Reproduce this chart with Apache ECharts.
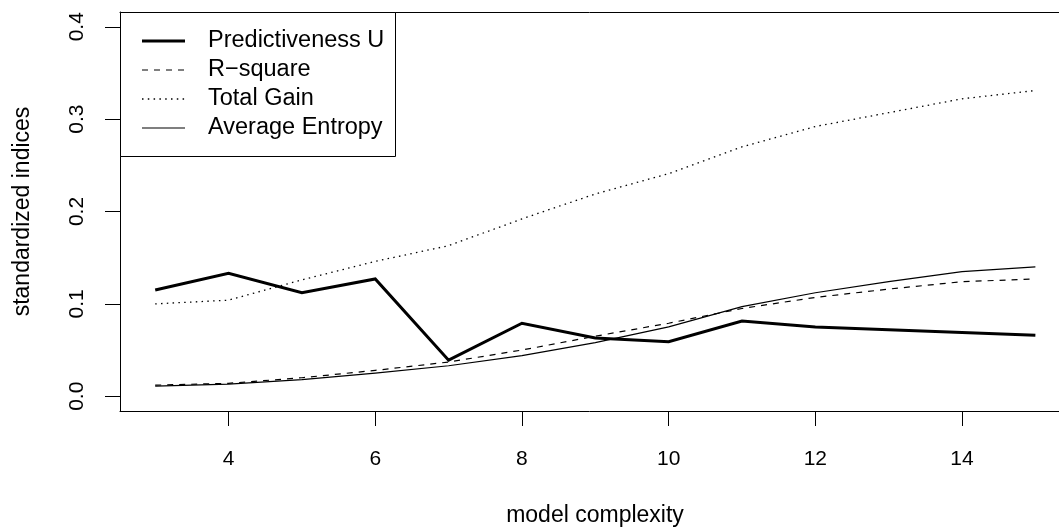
<!DOCTYPE html>
<html>
<head>
<meta charset="utf-8">
<script src="https://cdn.jsdelivr.net/npm/echarts@6/dist/echarts.min.js"></script>
<style>
html,body{margin:0;padding:0;background:#fff;}
#c{width:1059px;height:532px;}
</style>
</head>
<body>
<div id="c"></div>
<script>
var complexity = [3,4,5,6,7,8,9,10,11,12,13,14,15];
var predictivenessU = [0.115,0.133,0.112,0.127,0.039,0.079,0.063,0.059,0.0815,0.075,0.072,0.069,0.066];
var rSquare = [0.012,0.014,0.020,0.028,0.037,0.050,0.065,0.079,0.095,0.107,0.116,0.124,0.127];
var totalGain = [0.100,0.104,0.126,0.146,0.163,0.192,0.219,0.241,0.270,0.292,0.307,0.322,0.331];
var avgEntropy = [0.011,0.013,0.018,0.025,0.033,0.044,0.058,0.075,0.097,0.112,0.124,0.135,0.140];
var seriesNames = ['Predictiveness U','R\u2212square','Total Gain','Average Entropy'];
var xTicks = [4,6,8,10,12,14];
var yTicks = [0,0.1,0.2,0.3,0.4];

var FONT = 'Liberation Sans, Arial, sans-serif';
var styles = [
  {width:3, type:'solid'},
  {width:1.2, type:[6,6]},
  {width:1.3, type:[1.5,4.3]},
  {width:1.2, type:'solid'}
];
var values = [predictivenessU, rSquare, totalGain, avgEntropy];

function pairs(arr){ return complexity.map(function(x,i){ return [x, arr[i]]; }); }

var series = values.map(function(v,i){
  return {
    name: seriesNames[i], type:'line', data: pairs(v), symbol:'none',
    lineStyle:{color:'#000', width:styles[i].width, type:styles[i].type, cap:'butt', join:'miter'},
    itemStyle:{color:'#000'}, animation:false, silent:true
  };
});

// legend drawn as graphic elements (box, sample lines, names)
var legLeft = 120, legTop = 12, legW = 275, legH = 144;
var rowY = [41, 70, 99, 128];
var g = [{type:'rect', shape:{x:legLeft+0.5, y:legTop+0.5, width:legW, height:legH},
          style:{fill:'#fff', stroke:'#000', lineWidth:1}, z:100}];
seriesNames.forEach(function(n,i){
  g.push({type:'line', shape:{x1:142, y1:rowY[i], x2:185, y2:rowY[i]},
          style:{stroke:'#000', lineWidth:styles[i].width, lineDash: styles[i].type==='solid'?null:styles[i].type}, z:101});
  g.push({type:'text', x:208, y:rowY[i], style:{text:n, font:'23.5px '+FONT, fill:'#000', textVerticalAlign:'middle', textAlign:'left'}, z:101});
});

var chart = echarts.init(document.getElementById('c'), null, {renderer:'canvas'});
chart.setOption({
  animation:false,
  backgroundColor:'#fff',
  grid:{left:120, top:12, right:0, bottom:118, show:false},
  xAxis:[{
    type:'value', min:2.52, max:15.322, position:'bottom',
    name:'model complexity', nameLocation:'middle', nameGap:93,
    nameTextStyle:{fontFamily:FONT, fontSize:23, color:'#000', padding:[0,0,0,11]},
    axisLine:{show:true, onZero:false, lineStyle:{color:'#000', width:1}},
    splitLine:{show:false},
    axisTick:{show:true, customValues:xTicks, length:15, lineStyle:{color:'#000', width:1}},
    axisLabel:{customValues:xTicks, margin:38, fontFamily:FONT, fontSize:21, color:'#000'}
  },{
    type:'value', position:'top', min:2.52, max:15.322,
    axisLine:{show:true, onZero:false, lineStyle:{color:'#000', width:1}},
    axisTick:{show:false}, axisLabel:{show:false}, splitLine:{show:false}
  }],
  yAxis:{
    type:'value', min:-0.016, max:0.416, position:'left',
    name:'standardized indices', nameLocation:'middle', nameGap:86, nameRotate:90,
    nameTextStyle:{fontFamily:FONT, fontSize:23, color:'#000'},
    axisLine:{show:true, onZero:false, lineStyle:{color:'#000', width:1}},
    splitLine:{show:false},
    axisTick:{show:true, customValues:yTicks, length:15, lineStyle:{color:'#000', width:1}},
    axisLabel:{customValues:yTicks, rotate:90, margin:32, fontFamily:FONT, fontSize:21, color:'#000',
      formatter:function(v){ return v.toFixed(1); }}
  },
  series: series,
  graphic: g
});
</script>
</body>
</html>
